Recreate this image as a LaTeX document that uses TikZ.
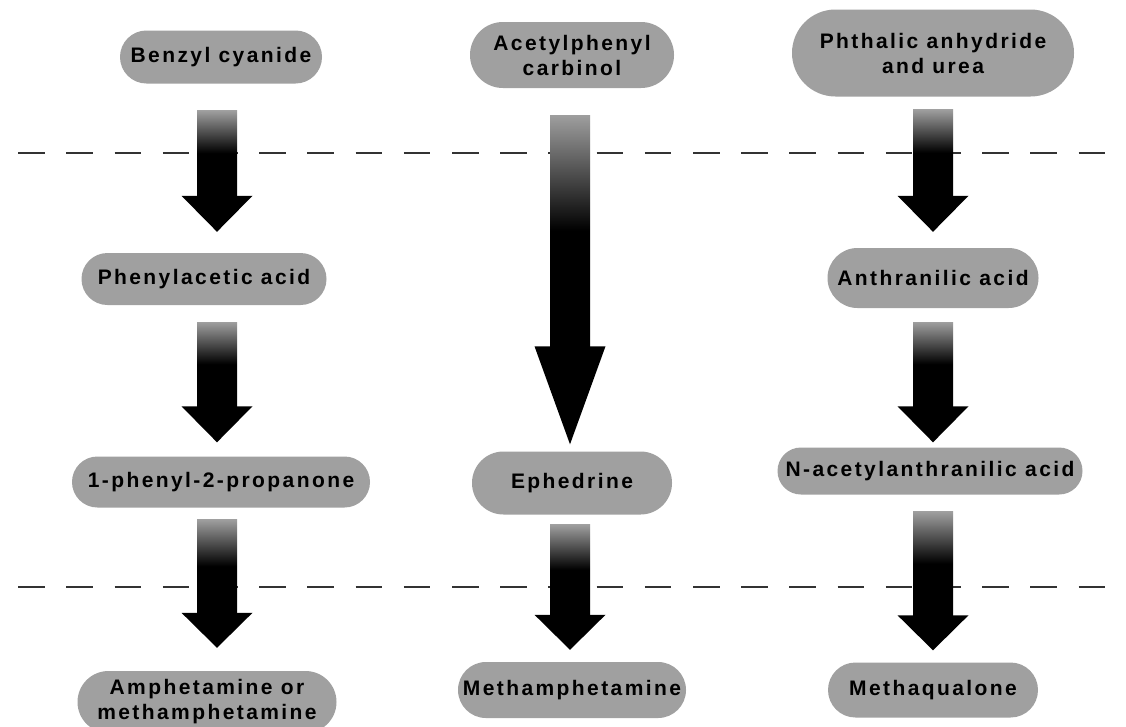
\documentclass[tikz,border=0pt]{standalone}
\usepackage{fontspec}
\setmainfont{Liberation Sans}[LetterSpace=11.5]
\usetikzlibrary{calc}
\definecolor{pillgray}{RGB}{160,160,160}
% shaded block arrow: from, to, column, top gap, tip gap, head length
\newcommand{\flowarrow}[6]{%
  \shade[top color=black!38, bottom color=black, middle color=black]
    ($(#1.south -| #3)+(-20,#4)$) rectangle ($(#2.north -| #3)+(20,-#5-#6)$);
  \fill ($(#2.north -| #3)+(-35.5,-#5-#6)$) -- ($(#2.north -| #3)+(35.5,-#5-#6)$)
    -- ($(#2.north -| #3)+(0,-#5)$) -- cycle;}

\begin{document}
\begin{tikzpicture}[x=1pt,y=-1pt,
  pill/.style args={#1x#2}{rectangle, fill=pillgray, minimum width=#1pt,
    minimum height=#2pt, rounded corners=#2pt/2-0.05pt, inner sep=0pt,
    align=center, font=\fontsize{21}{25}\selectfont\bfseries}]
  \fill[white] (0,0) rectangle (1126,726);
  \useasboundingbox (0,0) rectangle (1126,726);
  % column axes
  \coordinate (c1) at (217,0);
  \coordinate (c2) at (570,0);
  \coordinate (c3) at (933,0);
  % stage borders
  \draw[black!80, line width=1.2pt, dash pattern=on 26.5pt off 21.7pt, dash phase=30pt]
    (0,153) -- (1126,153);
  \draw[black!80, line width=1.2pt, dash pattern=on 26.5pt off 21.7pt, dash phase=30pt]
    (0,587) -- (1126,587);
  % precursors
  \node[pill=202x53] (benzyl) at (221,57) {Benzyl cyanide};
  \node[pill=204x66] (acetyl) at (572,55) {Acetylphenyl\\carbinol};
  \node[pill=282x87] (phthalic) at (933,53) {Phthalic anhydride\\and urea};
  % intermediates
  \node[pill=245x52] (phenylacetic) at (204,279) {Phenylacetic acid};
  \node[pill=211x60] (anthranilic) at (933,278) {Anthranilic acid};
  \node[pill=298x51] (phenylprop) at (221,482) {1-phenyl-2-propanone};
  \node[pill=200x63] (ephedrine) at (572,483) {Ephedrine};
  \node[pill=305x47] (nacetyl) at (930,471) {N-acetylanthranilic acid};
  % products
  \node[pill=259x62] (amphet) at (207,702) {Amphetamine or\\methamphetamine};
  \node[pill=228x56] (metham) at (572,690) {Methamphetamine};
  \node[pill=210x55] (methaq) at (933,690) {Methaqualone};
  % arrows
  \flowarrow{benzyl}{phenylacetic}{c1}{27}{21}{36}
  \flowarrow{phenylacetic}{phenylprop}{c1}{17}{14}{36}
  \flowarrow{phenylprop}{amphet}{c1}{12}{23}{35}
  \flowarrow{acetyl}{ephedrine}{c2}{27}{7}{98}
  \flowarrow{ephedrine}{metham}{c2}{10}{12}{35}
  \flowarrow{phthalic}{anthranilic}{c3}{13}{16}{36}
  \flowarrow{anthranilic}{nacetyl}{c3}{14}{5}{36}
  \flowarrow{nacetyl}{methaq}{c3}{17}{12}{35}
\end{tikzpicture}
\end{document}
